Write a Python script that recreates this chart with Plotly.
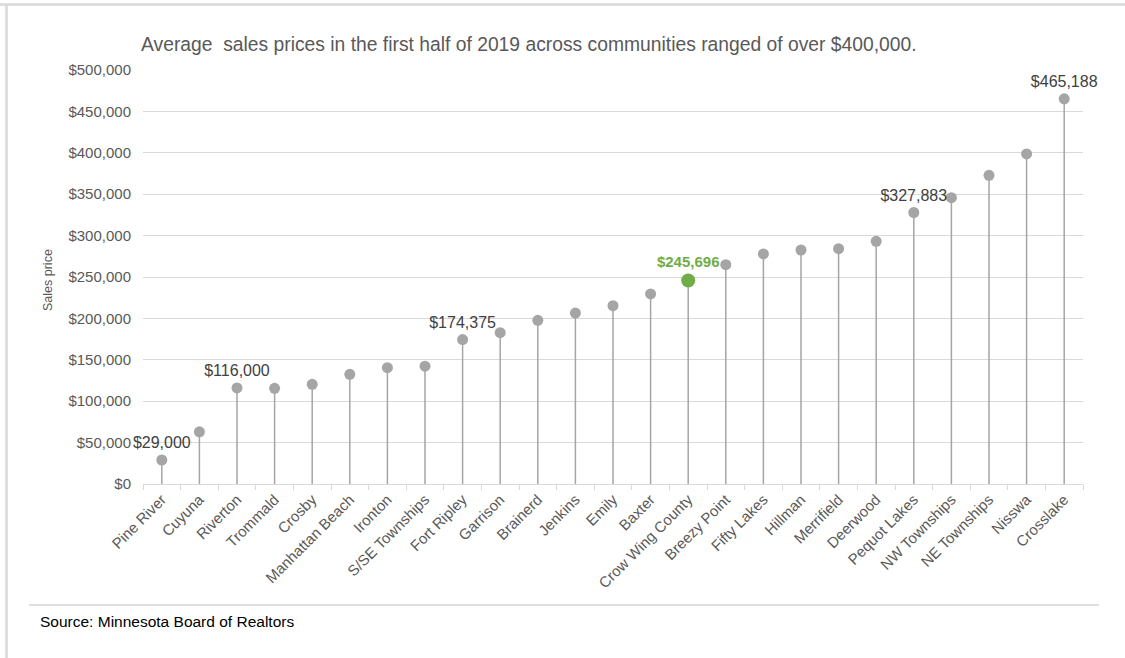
import plotly.graph_objects as go

communities = ["Pine River", "Cuyuna", "Riverton", "Trommald", "Crosby", "Manhattan Beach",
               "Ironton", "S/SE Townships", "Fort Ripley", "Garrison", "Brainerd", "Jenkins",
               "Emily", "Baxter", "Crow Wing County", "Breezy Point", "Fifty Lakes", "Hillman",
               "Merrifield", "Deerwood", "Pequot Lakes", "NW Townships", "NE Townships",
               "Nisswa", "Crosslake"]
prices = [29000, 63000, 116000, 115500, 120400, 132500, 140500, 142300, 174375, 182700,
          197700, 206500, 215300, 229500, 245696, 264900, 277800, 282600, 284200, 293100,
          327883, 345800, 372800, 398600, 465188]
labelled = ["Pine River", "Riverton", "Fort Ripley", "Pequot Lakes", "Crosslake"]
highlight = "Crow Wing County"

FONT = "Liberation Sans, Arial, sans-serif"
GREY = "#A5A5A5"
GREEN = "#70AD47"

# plot area in pixels
L, R, T, B = 143, 1083, 70, 484
W, H = R - L, B - T
def px(x): return (x - L) / W
def py(y): return (B - y) / H

# stems
sx, sy = [], []
for c, v in zip(communities, prices):
    sx += [c, c, None]
    sy += [0, v, None]

grey_x = [c for c in communities if c != highlight]
grey_y = [v for c, v in zip(communities, prices) if c != highlight]
grey_t = ["${:,.0f}".format(v) if c in labelled else "" for c, v in zip(grey_x, grey_y)]
hi_y = [v for c, v in zip(communities, prices) if c == highlight]

fig = go.Figure()
fig.add_trace(go.Scatter(x=sx, y=sy, mode="lines", line=dict(color=GREY, width=1.5),
                         hoverinfo="skip", showlegend=False))
fig.add_trace(go.Scatter(x=grey_x, y=grey_y, mode="markers+text", text=grey_t,
                         textposition="top center", cliponaxis=False,
                         textfont=dict(family=FONT, size=16, color="#404040"),
                         marker=dict(color=GREY, size=11), showlegend=False))
fig.add_trace(go.Scatter(x=[highlight], y=hi_y, mode="markers+text",
                         text=["<b>${:,.0f}</b>".format(v) for v in hi_y],
                         textposition="top center", cliponaxis=False,
                         textfont=dict(family=FONT, size=15, color=GREEN),
                         marker=dict(color=GREEN, size=14), showlegend=False))

fig.update_layout(
    width=1125, height=658,
    margin=dict(l=L, r=1125 - R, t=T, b=658 - B, autoexpand=False),
    paper_bgcolor="white", plot_bgcolor="white",
    font=dict(family=FONT, color="#595959"),
    xaxis=dict(type="category", categoryorder="array", categoryarray=communities,
               range=[-0.5, len(communities) - 0.5], tickangle=-45,
               tickfont=dict(family=FONT, size=15, color="#595959"),
               showline=True, linecolor="#D9D9D9", linewidth=1, showgrid=False,
               ticks="outside", tickson="boundaries", ticklen=5, tickcolor="#D9D9D9",
               zeroline=False),
    yaxis=dict(range=[0, 500000], dtick=50000, tickprefix="$", tickformat=",",
               tickfont=dict(family=FONT, size=15, color="#595959"),
               showgrid=True, gridcolor="#D9D9D9", gridwidth=1, zeroline=False,
               showline=False, ticks="", ticklabelstandoff=11),
    annotations=[
        dict(text="Average\u00a0 sales prices in the first half of 2019 across communities ranged of over $400,000.",
             xref="paper", yref="paper", x=px(139), y=py(45), xanchor="left", yanchor="middle",
             showarrow=False, font=dict(family=FONT, size=19.3, color="#595959")),
        dict(text="Sales price", xref="paper", yref="paper", x=px(48), y=py(280), textangle=-90,
             xanchor="center", yanchor="middle", showarrow=False,
             font=dict(family=FONT, size=12.5, color="#595959")),
        dict(text="Source: Minnesota Board of Realtors", xref="paper", yref="paper",
             x=px(38), y=py(621), xanchor="left", yanchor="middle", showarrow=False,
             font=dict(family=FONT, size=15.5, color="#000000")),
    ],
    shapes=[
        dict(type="line", xref="paper", yref="paper", x0=px(0), x1=px(1125), y0=py(4.5), y1=py(4.5),
             line=dict(color="#D9D9D9", width=2.5)),
        dict(type="line", xref="paper", yref="paper", x0=px(6.5), x1=px(6.5), y0=py(4), y1=py(658),
             line=dict(color="#D9D9D9", width=2.5)),
        dict(type="line", xref="paper", yref="paper", x0=px(29), x1=px(1099), y0=py(605), y1=py(605),
             line=dict(color="#BFBFBF", width=1)),
    ],
)

fig.write_html("out.html", config={"displayModeBar": False},
               post_script="document.body.style.margin='0';")
